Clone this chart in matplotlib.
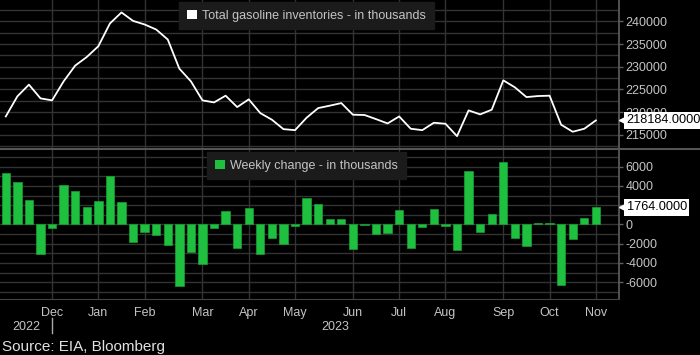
import numpy as np
import matplotlib.pyplot as plt
from matplotlib.patches import Patch
from matplotlib.lines import Line2D

plt.rcParams['font.family'] = ['Liberation Sans', 'DejaVu Sans']

# Weekly US gasoline inventories (thousand barrels) and weekly change
inventory = [
    219060, 223480, 226060, 223040, 222600, 226790, 230260, 232150, 234520, 239530,
    241960, 240100, 239310, 238200, 236000, 229590, 226790, 222600, 222150, 223630,
    221120, 222820, 219790, 218340, 216260, 216040, 218780, 220900, 221430, 222000,
    219440, 219380, 218470, 217520, 219060, 216350, 216040, 217670, 217450, 214720,
    220390, 219510, 220540, 227010, 225470, 223320, 223550, 223630, 217230, 215690,
    216350, 218184,
]
weekly_change = [
    5300, 4450, 2560, -3060, -380, 4150, 3470, 1850, 2450, 4990,
    2380, -1850, -820, -1110, -2130, -6380, -2850, -4130, -380, 1400,
    -2450, 1700, -3100, -1430, -2070, -200, 2740, 2140, 535, 610,
    -2550, -60, -1030, -860, 1530, -2480, -270, 1570, -180, -2690,
    5600, -830, 1050, 6460, -1430, -2240, 180, 100, -6340, -1560,
    700, 1764,
]
month_ticks = [4, 8, 12, 17, 21, 25, 30, 34, 38, 43, 47, 51]
month_labels = ['Dec', 'Jan', 'Feb', 'Mar', 'Apr', 'May', 'Jun', 'Jul', 'Aug', 'Sep', 'Oct', 'Nov']
year_labels = ['2022', '2023']
year_break = 4

W, H = 700, 355
BG = 'black'
GRID = '#333333'
SPINE = '#606060'
TXT = '#c4c4c4'
GREEN = '#1fc040'

fig = plt.figure(figsize=(W / 100, H / 100), dpi=100, facecolor=BG)


def px_axes(left, top, right, bottom):
    return fig.add_axes([left / W, 1 - bottom / H, (right - left) / W, (bottom - top) / H])


ax1 = px_axes(0, 0, 619, 148.5)
ax2 = px_axes(0, 150, 619, 298.5)
x = np.arange(len(inventory))
xlim = (-0.5, 53.0)

ax1.plot(x, inventory, color='white', lw=1.3, zorder=3)
ax2.bar(x, weekly_change, width=0.72, color=GREEN, edgecolor='#17a035', lw=0.5, zorder=3)

ax1.set_ylim(212000, 244700)
ax1.set_yticks(np.arange(215000, 240001, 5000))
ax1.set_yticks(np.arange(212500, 244000, 2500), minor=True)
ax2.set_ylim(-7700, 7740)
ax2.set_yticks(np.arange(-6000, 6001, 2000))
ax2.set_yticks(np.arange(-7000, 7001, 1000), minor=True)

for ax in (ax1, ax2):
    ax.set_facecolor(BG)
    ax.set_xlim(*xlim)
    ax.set_xticks(month_ticks)
    ax.yaxis.tick_right()
    ax.grid(True, which='both', color=GRID, lw=1, zorder=0)
    ax.tick_params(axis='y', which='major', direction='out', length=3, width=1,
                   color=SPINE, labelcolor=TXT, labelsize=9, pad=1.5)
    ax.tick_params(axis='y', which='minor', length=0)
    ax.tick_params(axis='x', length=0)
    for side in ('top', 'left', 'bottom'):
        ax.spines[side].set_visible(False)
    ax.spines['right'].set_color(SPINE)
    ax.spines['right'].set_linewidth(1.2)

ax1.set_xticklabels([])
ax2.set_xticklabels(month_labels, color=TXT, fontsize=9)
ax2.tick_params(axis='x', pad=6)
ax2.spines['bottom'].set_visible(True)
ax2.spines['bottom'].set_color('#444444')
ax2.set_yticklabels(['-6000', '-4000', '-2000', '0', '', '4000', '6000'])

# separator between the two panels
fig.add_artist(Line2D([0, 1], [1 - 149.2 / H] * 2, color='#555555', lw=1.5))

# last value markers on the right axis
for ax, val in ((ax1, inventory[-1]), (ax2, weekly_change[-1])):
    ax.plot([1 + 3.5 / 619], [val], marker='<', ms=6, color='white',
            transform=ax.get_yaxis_transform(), clip_on=False, zorder=10)
    ax.annotate(f'{val:.4f}', xy=(1, val), xycoords=ax.get_yaxis_transform(),
                xytext=(5.5, 0), textcoords='offset points', va='center', ha='left',
                fontsize=9.2, color='black', annotation_clip=False, zorder=10,
                bbox=dict(boxstyle='square,pad=0.2', fc='white', ec='none'))

# legends
for ax, col, label, left in ((ax1, 'white', 'Total gasoline inventories - in thousands', 179),
                             (ax2, GREEN, 'Weekly change - in thousands', 207)):
    leg = ax.legend(handles=[Patch(facecolor=col, edgecolor='none')], labels=[label],
                    loc='upper left', bbox_to_anchor=(left / 619, 1 - 2 / 148.5),
                    borderaxespad=0, frameon=True, fancybox=False, framealpha=1,
                    facecolor='#1b1b1b', edgecolor='#1b1b1b', fontsize=9,
                    handlelength=0.8, handleheight=0.8, handletextpad=0.45,
                    borderpad=0.6, labelcolor=TXT)
    leg.set_zorder(6)

# year labels under the month axis
data_to_fig = lambda v: (v - xlim[0]) / (xlim[1] - xlim[0]) * 619 / W
fig.text(data_to_fig((xlim[0] + year_break) / 2), 1 - 327 / H, year_labels[0],
         color=TXT, fontsize=9, ha='center', va='center')
fig.text(data_to_fig((year_break + xlim[1]) / 2), 1 - 327 / H, year_labels[1],
         color=TXT, fontsize=9, ha='center', va='center')
fig.add_artist(Line2D([data_to_fig(year_break)] * 2, [1 - 318 / H, 1 - 333 / H],
                      color='#aaaaaa', lw=1))

fig.text(2 / W, 1 - 347 / H, 'Source: EIA, Bloomberg', color='#e0e0e0',
         fontsize=11, ha='left', va='center')

fig.savefig('out.png', dpi=100, facecolor=BG)
